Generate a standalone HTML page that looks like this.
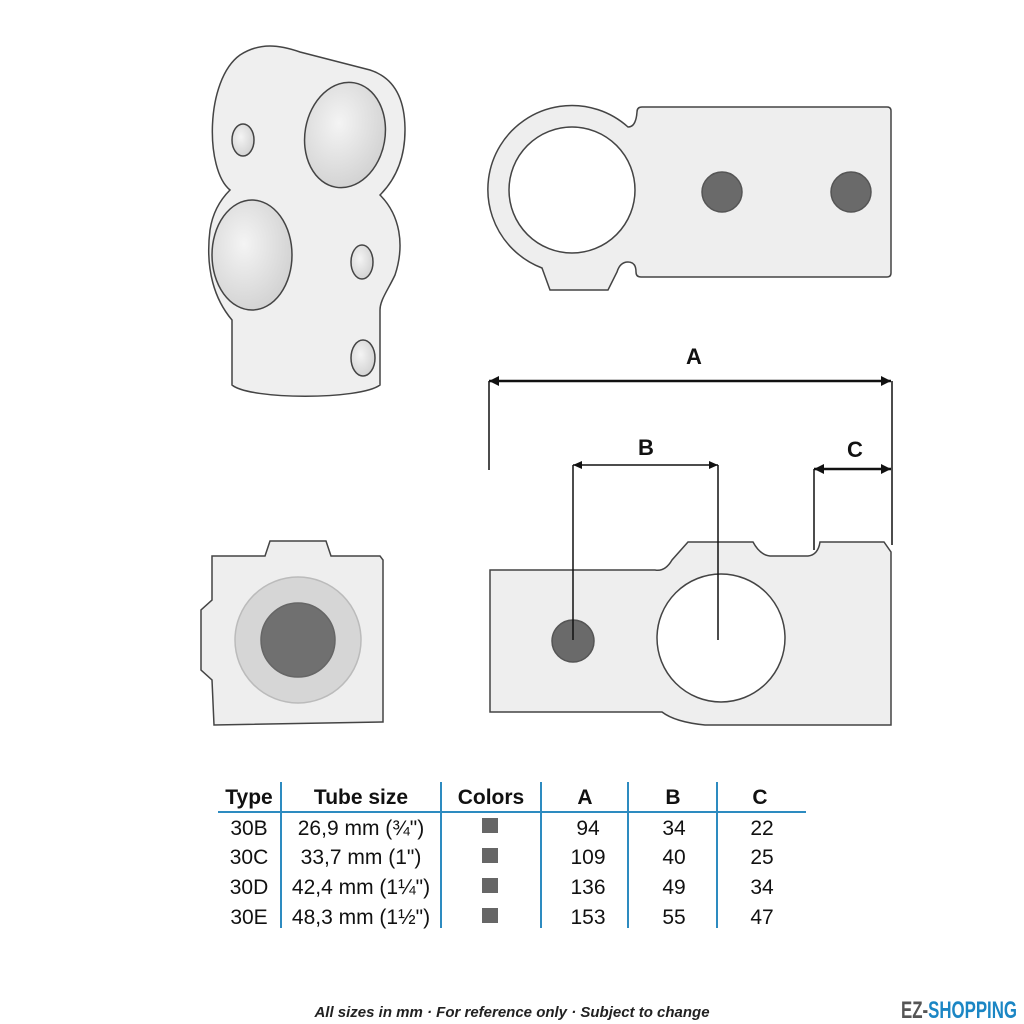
<!DOCTYPE html>
<html><head><style>body{margin:0;background:#fff}svg{display:block}</style></head><body>
<svg width="1024" height="1024" viewBox="0 0 1024 1024" xmlns="http://www.w3.org/2000/svg" font-family="'Liberation Sans',sans-serif">
<defs>
<radialGradient id="hole" cx="0.4" cy="0.4" r="0.7"><stop offset="0" stop-color="#f4f4f4"/><stop offset="1" stop-color="#cfcfcf"/></radialGradient>
</defs>
<g stroke="#444" stroke-width="1.5">
<!-- 3D part -->
<path d="M230 190 C205 170 205 80 240 55 C260 42 280 45 300 52 L370 70 C395 78 405 100 405 130 C405 165 390 185 380 195 C400 215 405 245 395 275 C388 290 380 300 380 310 L380 385 C360 400 250 400 232 385 L232 320 C215 300 205 270 210 230 C213 210 222 198 230 190 Z" fill="#efefef"/>
<ellipse cx="345" cy="135" rx="40" ry="53" fill="url(#hole)" transform="rotate(10 345 135)"/>
<ellipse cx="252" cy="255" rx="40" ry="55" fill="url(#hole)"/>
<ellipse cx="243" cy="140" rx="11" ry="16" fill="url(#hole)"/>
<ellipse cx="362" cy="262" rx="11" ry="17" fill="url(#hole)"/>
<ellipse cx="363" cy="358" rx="12" ry="18" fill="url(#hole)"/>
<!-- top right view -->
<path d="M637 112 Q637 107 642 107 L887 107 Q891 107 891 111 L891 273 Q891 277 887 277 L641 277 Q636 277 636 272 Q636 262 628 262 Q620 262 617 272 L608 290 L550 290 L542 268 A84 84 0 1 1 628 127 Q636 127 637 112 Z" fill="#eeeeee"/>
<circle cx="572" cy="190" r="63" fill="#fff"/>
<circle cx="722" cy="192" r="20" fill="#6a6a6a" stroke="#555"/>
<circle cx="851" cy="192" r="20" fill="#6a6a6a" stroke="#555"/>
<!-- bottom right view -->
<path d="M490 570 L655 570 Q665 572 672 560 L688 542 L753 542 Q760 555 770 556 L808 556 Q818 555 820 542 L884 542 L891 552 L891 725 L705 725 Q675 722 662 712 L490 712 Z" fill="#eeeeee"/>
<circle cx="721" cy="638" r="64" fill="#fff"/>
<circle cx="573" cy="641" r="21" fill="#6a6a6a" stroke="#555"/>
<!-- bottom left view -->
<path d="M212 556 L265 556 L270 541 L326 541 L331 556 L380 556 L383 560 L383 722 L214 725 L212 680 L201 670 L201 610 L212 600 Z" fill="#eeeeee"/>
<circle cx="298" cy="640" r="63" fill="#d6d6d6" stroke="#bbb"/>
<circle cx="298" cy="640" r="37" fill="#707070" stroke="#666"/>
</g>
<!-- dimensions -->
<g stroke="#111" stroke-width="1.5" fill="none">
<line x1="489" y1="381" x2="891" y2="381" stroke-width="2.5"/>
<line x1="489" y1="381" x2="489" y2="470"/>
<line x1="892" y1="381" x2="892" y2="545"/>
<line x1="573" y1="465" x2="718" y2="465"/>
<line x1="573" y1="465" x2="573" y2="640"/>
<line x1="718" y1="465" x2="718" y2="640"/>
<line x1="814" y1="469" x2="891" y2="469" stroke-width="2.5"/>
<line x1="814" y1="469" x2="814" y2="550"/>
</g>
<g fill="#111">
<path d="M489 381 l10 -5 v10z"/><path d="M891 381 l-10 -5 v10z"/>
<path d="M573 465 l9 -4 v8z"/><path d="M718 465 l-9 -4 v8z"/>
<path d="M814 469 l10 -5 v10z"/><path d="M891 469 l-10 -5 v10z"/>
<text x="694" y="364" font-size="22" font-weight="bold" text-anchor="middle">A</text>
<text x="646" y="455" font-size="22" font-weight="bold" text-anchor="middle">B</text>
<text x="855" y="457" font-size="22" font-weight="bold" text-anchor="middle">C</text>
</g>
<!-- table -->
<g stroke="#2d8bc0" stroke-width="2">
<line x1="218" y1="812" x2="806" y2="812"/>
<line x1="281" y1="782" x2="281" y2="928"/>
<line x1="441" y1="782" x2="441" y2="928"/>
<line x1="541" y1="782" x2="541" y2="928"/>
<line x1="628" y1="782" x2="628" y2="928"/>
<line x1="717" y1="782" x2="717" y2="928"/>
</g>
<g font-size="21" fill="#111" text-anchor="middle">
<g font-weight="bold"><text x="249" y="804">Type</text><text x="361" y="804">Tube size</text><text x="491" y="804">Colors</text><text x="585" y="804">A</text><text x="673" y="804">B</text><text x="760" y="804">C</text></g>
<text x="249" y="835">30B</text><text x="361" y="835">26,9 mm (¾")</text><text x="588" y="835">94</text><text x="674" y="835">34</text><text x="762" y="835">22</text>
<text x="249" y="864">30C</text><text x="361" y="864">33,7 mm (1")</text><text x="588" y="864">109</text><text x="674" y="864">40</text><text x="762" y="864">25</text>
<text x="249" y="894">30D</text><text x="361" y="894">42,4 mm (1¼")</text><text x="588" y="894">136</text><text x="674" y="894">49</text><text x="762" y="894">34</text>
<text x="249" y="924">30E</text><text x="361" y="924">48,3 mm (1½")</text><text x="588" y="924">153</text><text x="674" y="924">55</text><text x="762" y="924">47</text>
</g>
<g fill="#666"><rect x="482" y="818" width="16" height="15"/><rect x="482" y="848" width="16" height="15"/><rect x="482" y="878" width="16" height="15"/><rect x="482" y="908" width="16" height="15"/></g>
<text x="512" y="1017" font-size="15" font-style="italic" font-weight="bold" text-anchor="middle" fill="#222">All sizes in mm · For reference only · Subject to change</text>
<text x="1017" y="1018" font-size="24" font-weight="bold" text-anchor="end" textLength="116" lengthAdjust="spacingAndGlyphs"><tspan fill="#555">EZ-</tspan><tspan fill="#1b86c4">SHOPPING</tspan></text>
</svg>
</body></html>
